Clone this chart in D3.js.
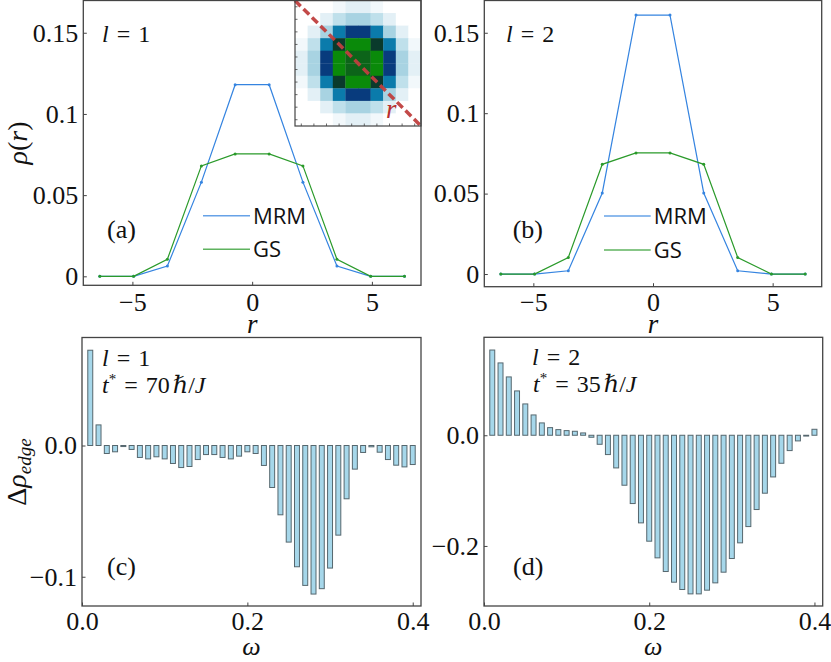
<!DOCTYPE html>
<html><head><meta charset="utf-8">
<script src="https://cdn.jsdelivr.net/npm/d3@7"></script>
<style>body{margin:0;background:#fff}svg{display:block}
.serif{font-family:"Liberation Serif","DejaVu Serif",serif}
.sans{font-family:"Open Sans","Noto Sans",sans-serif}
</style>
</head><body><svg id="c" width="831" height="662"></svg>
<script>
// ---------------- data ----------------
const rPos   = [-6.36, -4.95, -3.54, -2.12, -0.71, 0.71, 2.12, 3.54, 4.95, 6.36];
const mrmL1  = [0, 0, 0.0063, 0.058, 0.118, 0.118, 0.058, 0.0063, 0, 0];
const gsL1   = [0, 0, 0.0105, 0.068, 0.0754, 0.0754, 0.068, 0.0105, 0, 0];
const mrmL2  = [0, 0, 0.002, 0.0504, 0.161, 0.161, 0.0504, 0.002, 0, 0];
const gsL2   = [0, 0, 0.0103, 0.0682, 0.0753, 0.0753, 0.0682, 0.0103, 0, 0];

const omega = [0.01,0.02,0.03,0.04,0.05,0.06,0.07,0.08,0.09,0.10,
               0.11,0.12,0.13,0.14,0.15,0.16,0.17,0.18,0.19,0.20,
               0.21,0.22,0.23,0.24,0.25,0.26,0.27,0.28,0.29,0.30,
               0.31,0.32,0.33,0.34,0.35,0.36,0.37,0.38,0.39,0.40];
const dRhoL1 = [0.0726, 0.0157, -0.0061, -0.0048, -0.0008, -0.003, -0.0091, -0.0102, -0.0086, -0.0102,
                -0.0137, -0.0168, -0.016, -0.0107, -0.0069, -0.0069, -0.0091, -0.0102, -0.0081, -0.0048,
                -0.0061, -0.0152, -0.032, -0.0528, -0.0736, -0.0924, -0.1066, -0.1132, -0.1091, -0.0934,
                -0.0683, -0.0406, -0.018, -0.0053, -0.001, -0.0051, -0.0107, -0.015, -0.0163, -0.0145];
const dRhoL2 = [0.154, 0.1307, 0.1054, 0.0801, 0.0566, 0.0367, 0.0223, 0.0138, 0.0102, 0.0084,
                0.0072, 0.0042, -0.0036, -0.0163, -0.0349, -0.059, -0.0903, -0.1234, -0.1583, -0.1914,
                -0.2215, -0.2462, -0.2655, -0.2787, -0.2866, -0.2866, -0.2799, -0.2667, -0.2474, -0.2227,
                -0.1944, -0.165, -0.1342, -0.1047, -0.0753, -0.0506, -0.0277, -0.0102, -0.0012, 0.0108];

// inset density image (10x10), level codes
const insetGrid = [
  [0,0,0,1,2,2,1,0,0,0],
  [0,0,2,3,4,4,3,2,0,0],
  [0,2,4,5,6,6,5,4,2,0],
  [1,3,5,7,8,8,7,5,3,1],
  [2,4,6,8,9,9,8,6,4,2],
  [2,4,6,8,9,9,8,6,4,2],
  [1,3,5,7,8,8,7,5,3,1],
  [0,2,4,5,6,6,5,4,2,0],
  [0,0,2,3,4,4,3,2,0,0],
  [0,0,0,1,2,2,1,0,0,0]];
const insetLevels = [0,1,2,3,4,5,6,7,8,9];
const insetColors = ['#ffffff','#f2f8fb','#e3f0f6','#bfe0eb','#a8d3e2','#0b7bab','#083b7d','#0a3a2c','#0a8a0a','#0c6419'];

const rTicks = [-5, 0, 5], rTickLabels = ['\u22125', '0', '5'];
const rhoTicks = [0, 0.05, 0.1, 0.15], rhoTickLabels = ['0', '0.05', '0.1', '0.15'];
const wTicks = [0, 0.2, 0.4], wTickLabels = ['0.0', '0.2', '0.4'];
const dTicksC = [0, -0.1], dTickLabelsC = ['0.0', '\u22120.1'];
const dTicksD = [0, -0.2], dTickLabelsD = ['0.0', '\u22120.2'];

// ---------------- drawing ----------------
const svg = d3.select('#c');
const SPINE = '#444';
const BLUE = '#3584e0', GREEN = '#2a9a2a';

function panel(o) {
  const x = d3.scaleLinear().domain(o.xd).range([o.left, o.right]);
  const y = d3.scaleLinear().domain(o.yd).range([o.bottom, o.top]);
  const g = svg.append('g');
  o.draw(g, x, y);
  g.append('rect').attr('x', o.left).attr('y', o.top)
    .attr('width', o.right - o.left).attr('height', o.bottom - o.top)
    .attr('fill', 'none').attr('stroke', SPINE).attr('stroke-width', 1.3);
  const ax = g.append('g').attr('transform', `translate(0,${o.bottom})`)
    .call(d3.axisBottom(x).tickValues(o.xt).tickFormat((d, i) => o.xl[i]).tickSizeInner(-3.5).tickSizeOuter(0).tickPadding(o.xpad));
  const ay = g.append('g').attr('transform', `translate(${o.left},0)`)
    .call(d3.axisLeft(y).tickValues(o.yt).tickFormat((d, i) => o.yl[i]).tickSizeInner(-3.5).tickSizeOuter(0).tickPadding(5));
  [ax, ay].forEach(a => {
    a.attr('font-family', null).attr('font-size', null);
    a.select('.domain').remove();
    a.selectAll('line').attr('stroke', SPINE).attr('stroke-width', 1);
    a.selectAll('text').attr('class', 'serif').style('font-size', '26px').attr('fill', '#111');
  });
  return {g, x, y};
}

function lineSeries(g, x, y, vals, color) {
  const pts = rPos.map((r, i) => [r, vals[i]]);
  g.append('path').datum(pts)
    .attr('d', d3.line().x(d => x(d[0])).y(d => y(d[1])))
    .attr('fill', 'none').attr('stroke', color).attr('stroke-width', 1.2);
  g.selectAll(null).data(pts).enter().append('circle')
    .attr('cx', d => x(d[0])).attr('cy', d => y(d[1])).attr('r', 1.5).attr('fill', color);
}

function bars(g, x, y, vals) {
  const bw = x(0.006) - x(0);
  g.selectAll(null).data(omega.map((w, i) => [w, vals[i]])).enter().append('rect')
    .attr('x', d => x(d[0]) - bw / 2)
    .attr('y', d => Math.min(y(d[1]), y(0)))
    .attr('width', bw)
    .attr('height', d => Math.max(Math.abs(y(d[1]) - y(0)), 0.8))
    .attr('fill', '#a6d7ea').attr('stroke', '#56676e').attr('stroke-width', 1);
}

function mtext(g, x, y, parts, size) {
  const t = g.append('text').attr('x', x).attr('y', y).attr('class', 'serif')
    .style('font-size', size + 'px').attr('fill', '#111').attr('xml:space', 'preserve');
  parts.forEach(p => {
    const s = t.append('tspan').text(p.t);
    if (p.i) s.style('font-style', 'italic');
    if (p.s) s.style('font-size', p.s + 'px');
    if (p.dx) s.attr('dx', p.dx);
    if (p.dy) s.attr('dy', p.dy);
  });
  return t;
}

function legend(g, x0, x1, yA, yB) {
  [[yA, BLUE, 'MRM'], [yB, GREEN, 'GS']].forEach(([yy, c, lab]) => {
    g.append('line').attr('x1', x0).attr('x2', x1).attr('y1', yy).attr('y2', yy)
      .attr('stroke', c).attr('stroke-width', 1.6).attr('opacity', 0.75);
    g.append('text').attr('x', x1 + 3).attr('y', yy + 8).attr('class', 'sans')
      .style('font-size', '22px').attr('fill', '#111').text(lab);
  });
}

const lab = (n) => [{t: 'l', i: true}, {t: ' = ', dx: 2}, {t: n, dx: 2}];

// (a)
panel({left: 83.3, right: 421, top: 0.5, bottom: 285.3, xd: [-7.05, 7.05], yd: [-0.00553, 0.16986],
  xt: rTicks, xl: rTickLabels, yt: rhoTicks, yl: rhoTickLabels, xpad: 7,
  draw: (g, x, y) => {
    lineSeries(g, x, y, mrmL1, BLUE);
    lineSeries(g, x, y, gsL1, GREEN);
    legend(g, 203, 250, 215.7, 249.3);
    mtext(g, 102, 42, lab('1'), 24);
    mtext(g, 107, 238, [{t: '(a)'}], 26);
    const ix = d3.scaleLinear().domain([0, 10]).range([295, 421]);
    const iy = d3.scaleLinear().domain([0, 10]).range([0.5, 126]);
    const col = d3.scaleOrdinal().domain(insetLevels).range(insetColors);
    const ig = g.append('g');
    ig.append('rect').attr('x', ix(0)).attr('y', iy(0)).attr('width', ix(10) - ix(0)).attr('height', iy(10) - iy(0)).attr('fill', '#fff');
    insetGrid.forEach((row, i) => row.forEach((v, j) => {
      ig.append('rect').attr('x', ix(j)).attr('y', iy(i)).attr('width', ix(j + 1) - ix(j) + 0.3)
        .attr('height', iy(i + 1) - iy(i) + 0.3).attr('fill', col(v));
    }));
    d3.range(10).forEach(k => {
      ig.append('line').attr('x1', ix(0)).attr('x2', ix(0) + 2.5).attr('y1', iy(k + 0.5)).attr('y2', iy(k + 0.5)).attr('stroke', SPINE).attr('stroke-width', 0.8);
      ig.append('line').attr('y1', iy(10)).attr('y2', iy(10) - 2.5).attr('x1', ix(k + 0.5)).attr('x2', ix(k + 0.5)).attr('stroke', SPINE).attr('stroke-width', 0.8);
    });
    ig.append('line').attr('x1', ix(0)).attr('y1', iy(0)).attr('x2', ix(10)).attr('y2', iy(10))
      .attr('stroke', '#c0403f').attr('stroke-width', 3.5).attr('stroke-dasharray', '8,4').attr('opacity', 0.95);
    ig.append('text').attr('x', 386).attr('y', 118).attr('class', 'serif').style('font-style', 'italic')
      .style('font-size', '27px').attr('fill', '#b8302f').text('r');
    ig.append('rect').attr('x', ix(0)).attr('y', iy(0)).attr('width', ix(10) - ix(0)).attr('height', iy(10) - iy(0))
      .attr('fill', 'none').attr('stroke', SPINE).attr('stroke-width', 1.2);
  }});

// (b)
panel({left: 484.3, right: 821.7, top: 0.5, bottom: 286.7, xd: [-7.05, 7.05], yd: [-0.00788, 0.17005],
  xt: rTicks, xl: rTickLabels, yt: rhoTicks, yl: rhoTickLabels, xpad: 6,
  draw: (g, x, y) => {
    lineSeries(g, x, y, mrmL2, BLUE);
    lineSeries(g, x, y, gsL2, GREEN);
    legend(g, 604, 650.7, 216, 250);
    mtext(g, 506, 42, lab('2'), 24);
    mtext(g, 512.7, 238, [{t: '(b)'}], 26);
  }});

const tstar = (n) => [{t: 't', i: true}, {t: '*', s: 15, dy: -9}, {t: ' = ', dy: 9, dx: 2}, {t: n, dx: 2}, {t: '\u210F', i: true, dx: 3}, {t: '/'}, {t: 'J', i: true}];

// (c)
panel({left: 82, right: 421, top: 337.5, bottom: 606, xd: [0, 0.41], yd: [-0.1223, 0.0823],
  xt: wTicks, xl: wTickLabels, yt: dTicksC, yl: dTickLabelsC, xpad: 6,
  draw: (g, x, y) => {
    bars(g, x, y, dRhoL1);
    mtext(g, 102, 366, lab('1'), 24);
    mtext(g, 102, 393, tstar('70'), 24);
    mtext(g, 107, 575, [{t: '(c)'}], 26);
  }});

// (d)
panel({left: 484, right: 822.7, top: 337.3, bottom: 606, xd: [0, 0.41], yd: [-0.3085, 0.177],
  xt: wTicks, xl: wTickLabels, yt: dTicksD, yl: dTickLabelsD, xpad: 6,
  draw: (g, x, y) => {
    bars(g, x, y, dRhoL2);
    mtext(g, 532, 365, lab('2'), 24);
    mtext(g, 533, 392, tstar('35'), 24);
    mtext(g, 513, 575, [{t: '(d)'}], 26);
  }});

// axis labels
mtext(svg, 0, 0, [{t: '\u03C1', i: true}, {t: '('}, {t: 'r', i: true}, {t: ')'}], 28)
  .attr('text-anchor', 'middle').attr('transform', 'translate(27,143) rotate(-90)');
mtext(svg, 0, 0, [{t: '\u0394'}, {t: '\u03C1', i: true}, {t: 'edge', i: true, s: 19, dy: 5}], 28)
  .attr('text-anchor', 'middle').attr('transform', 'translate(26,472) rotate(-90)');
mtext(svg, 252.2, 333, [{t: 'r', i: true}], 27).attr('text-anchor', 'middle');
mtext(svg, 653, 333, [{t: 'r', i: true}], 27).attr('text-anchor', 'middle');
mtext(svg, 251.5, 655, [{t: '\u03C9', i: true}], 26).attr('text-anchor', 'middle');
mtext(svg, 653.3, 655, [{t: '\u03C9', i: true}], 26).attr('text-anchor', 'middle');
</script></body></html>
